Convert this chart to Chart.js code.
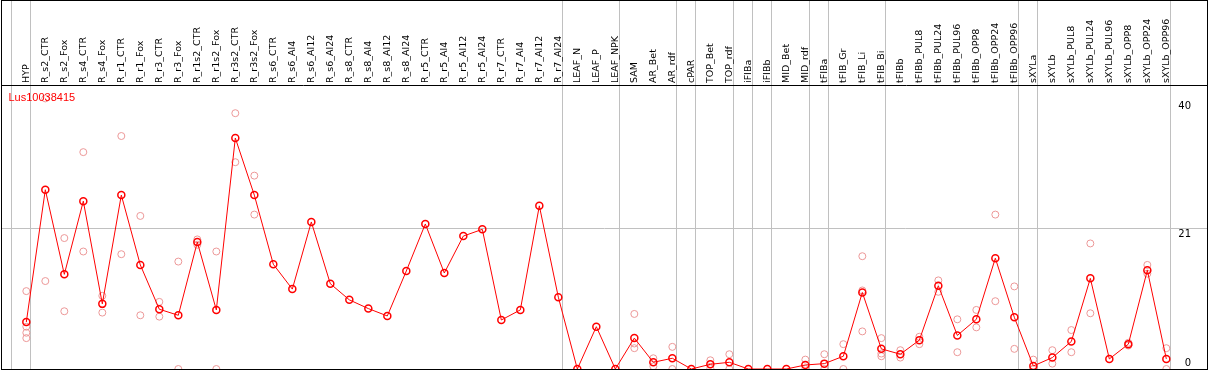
<!DOCTYPE html>
<html>
<head>
<meta charset="utf-8">
<script src="https://cdn.jsdelivr.net/npm/chart.js@4"></script>
<style>
  html, body { margin: 0; padding: 0; background: #fff; }
  #frame { position: absolute; left: 1px; top: 0; width: 1207px; height: 370px; border: 1px solid #000; box-sizing: border-box; }
  #frame canvas { display: block; }
  #geneName { position: absolute; left: 8.5px; top: 91px; font-family: "Liberation Sans", Arial, sans-serif; font-size: 11px; color: #f00; white-space: nowrap; }
</style>
</head>
<body>
<div id="frame"><canvas id="combinedChart" width="1205" height="368"></canvas></div>
<div id="geneName"></div>
<script>
const geneName = 'Lus10038415';
const categories = [
    'HYP', 'R_s2_CTR', 'R_s2_Fox', 'R_s4_CTR', 'R_s4_Fox', 'R_r1_CTR', 'R_r1_Fox', 'R_r3_CTR', 'R_r3_Fox',
    'R_r1s2_CTR', 'R_r1s2_Fox', 'R_r3s2_CTR', 'R_r3s2_Fox', 'R_s6_CTR', 'R_s6_Al4', 'R_s6_Al12', 'R_s6_Al24',
    'R_s8_CTR', 'R_s8_Al4', 'R_s8_Al12', 'R_s8_Al24', 'R_r5_CTR', 'R_r5_Al4', 'R_r5_Al12', 'R_r5_Al24',
    'R_r7_CTR', 'R_r7_Al4', 'R_r7_Al12', 'R_r7_Al24', 'LEAF_N', 'LEAF_P', 'LEAF_NPK', 'SAM', 'AR_Bet', 'AR_rdf',
    'cPAR', 'TOP_Bet', 'TOP_rdf', 'iFIBa', 'iFIBb', 'MID_Bet', 'MID_rdf', 'tFIBa', 'tFIB_Gr', 'tFIB_Li', 'tFIB_Bi',
    'tFIBb', 'tFIBb_PUL8', 'tFIBb_PUL24', 'tFIBb_PUL96', 'tFIBb_OPP8', 'tFIBb_OPP24', 'tFIBb_OPP96',
    'sXYLa', 'sXYLb', 'sXYLb_PUL8', 'sXYLb_PUL24', 'sXYLb_PUL96', 'sXYLb_OPP8', 'sXYLb_OPP24', 'sXYLb_OPP96'];
// index of the last sample in each group (a grey separator follows it)
const groupEnds = [-1, 0, 28, 31, 34, 35, 37, 38, 39, 41, 42, 45, 52, 53, 60];
const means = [
    7.0, 26.7, 14.1, 25.0, 9.7, 25.9, 15.5, 8.9, 8.0, 18.9,
    8.8, 34.4, 25.9, 15.6, 11.9, 21.9, 12.7, 10.3, 9.0, 7.9,
    14.6, 21.6, 14.3, 19.8, 20.8, 7.3, 8.8, 24.3, 10.7, 0,
    6.3, 0, 4.6, 1.0, 1.6, 0, 0.7, 1.0, 0, 0,
    0, 0.6, 0.8, 1.9, 11.4, 3.0, 2.2, 4.3, 12.4, 5.0,
    7.4, 16.5, 7.7, 0.45, 1.7, 4.1, 13.5, 1.5, 3.7, 14.7,
    1.5];
const rep1 = [
    11.6, 40.3, 19.5, 32.3, 10.9, 34.7, 22.8, 10.0, 16.0, 19.3,
    17.5, 38.1, 28.8, null, null, null, null, null, null, null,
    null, null, null, null, null, null, null, null, null, null,
    null, null, 8.2, 1.6, 3.3, null, 1.3, 2.2, null, null,
    null, 1.4, 2.2, 3.7, 16.8, 4.6, 2.8, 4.8, 13.2, 7.4,
    8.8, 23.0, 12.3, 1.4, 2.8, 5.8, 18.7, null, 3.9, 15.5,
    3.1];
const rep2 = [
    6.3, 13.1, 8.6, 17.5, 8.4, 17.1, 8.0, 7.8, 0, 18.5,
    0, 30.8, 23.0, null, null, null, null, null, null, null,
    null, null, null, null, null, null, null, null, null, null,
    null, null, 3.8, 0.4, 0, null, 0.1, 0, null, null,
    null, 0, 0, 0, 11.7, 2.3, 1.7, 3.7, 11.5, 2.5,
    6.2, 10.1, 3.0, 0, 0.8, 2.5, 8.3, null, 3.5, 14.2,
    0];
const rep3 = [
    5.4, null, null, null, null, null, null, null, null, null,
    null, null, null, null, null, null, null, null, null, null,
    null, null, null, null, null, null, null, null, null, null,
    null, null, 3.1, null, null, null, null, null, null, null,
    null, null, null, null, 5.6, 1.9, null, null, null, null,
    null, null, null, 0, null, null, null, null, null, null,
    null];
const rep4 = [
    4.6, null, null, null, null, null, null, null, null, null,
    null, null, null, null, null, null, null, null, null, null,
    null, null, null, null, null, null, null, null, null, null,
    null, null, null, null, null, null, null, null, null, null,
    null, null, null, null, null, null, null, null, null, null,
    null, null, null, null, null, null, null, null, null, null,
    null];
const yTicks = [0, 21, 40];

document.getElementById('geneName').textContent = geneName;

const meanPoints = means.map((v, i) => ({x: i, y: v}));
const repPoints = [];
[rep1, rep2, rep3, rep4].forEach(rep => rep.forEach((v, i) => {
    if (v !== null) repPoints.push({x: i, y: v});
}));

const ctx = document.getElementById('combinedChart');
new Chart(ctx, {
    data: {
        datasets: [
            {type: 'line', label: 'mean', data: meanPoints, order: 0,
                borderColor: '#ff0000', borderWidth: 1, tension: 0,
                pointRadius: 3.5, pointBorderWidth: 1.5, pointBorderColor: '#ff0000',
                pointBackgroundColor: 'rgba(0,0,0,0)'},
            {type: 'scatter', label: 'replicates', data: repPoints, order: 1,
                pointRadius: 3.5, pointBorderWidth: 1, borderColor: '#ec9898',
                backgroundColor: 'rgba(0,0,0,0)', showLine: false}
        ]
    },
    options: {
        responsive: false, animation: false, events: [],
        layout: {padding: 0, autoPadding: false},
        plugins: {legend: {display: false}, tooltip: {enabled: false}, title: {display: false}},
        scales: {
            x: {type: 'linear', position: 'top', min: -1.28, max: 62.14,
                afterBuildTicks: (scale) => {
                    scale.ticks = categories.map((c, i) => ({value: i}))
                        .concat(groupEnds.map(g => ({value: g + 0.21})));
                },
                afterFit: (scale) => { scale.height = 84; scale.paddingLeft = 0; scale.paddingRight = 0; },
                grid: {
                    color: (c) => (c.tick && Number.isInteger(c.tick.value)) ? 'rgba(0,0,0,0)' : '#c0c0c0',
                    lineWidth: 1, drawTicks: true, tickLength: 84},
                border: {display: true, color: '#000', width: 1},
                ticks: {autoSkip: false, minRotation: 90, maxRotation: 90, padding: -82, labelOffset: 12,
                    color: '#000', font: {family: 'DejaVu Sans', size: 9.5},
                    callback: (value) => Number.isInteger(value) ? categories[value] : ''}
            },
            y: {type: 'linear', position: 'right', min: 0, max: 42.3,
                afterBuildTicks: (scale) => { scale.ticks = yTicks.map(v => ({value: v})); },
                afterFit: (scale) => { scale.width = 0; scale.paddingTop = 0; scale.paddingBottom = 0; },
                grid: {
                    color: (c) => (c.tick && c.tick.value === yTicks[1]) ? '#c0c0c0' : 'rgba(0,0,0,0)',
                    drawTicks: false},
                border: {display: false},
                ticks: {mirror: true, crossAlign: 'near', padding: -16, color: '#000',
                    font: {family: 'DejaVu Sans', size: 10, lineHeight: 1.2},
                    callback: (value) => value === 0 ? [String(value), ''] : ['', String(value)]}
            }
        }
    }
});
</script>
</body>
</html>
